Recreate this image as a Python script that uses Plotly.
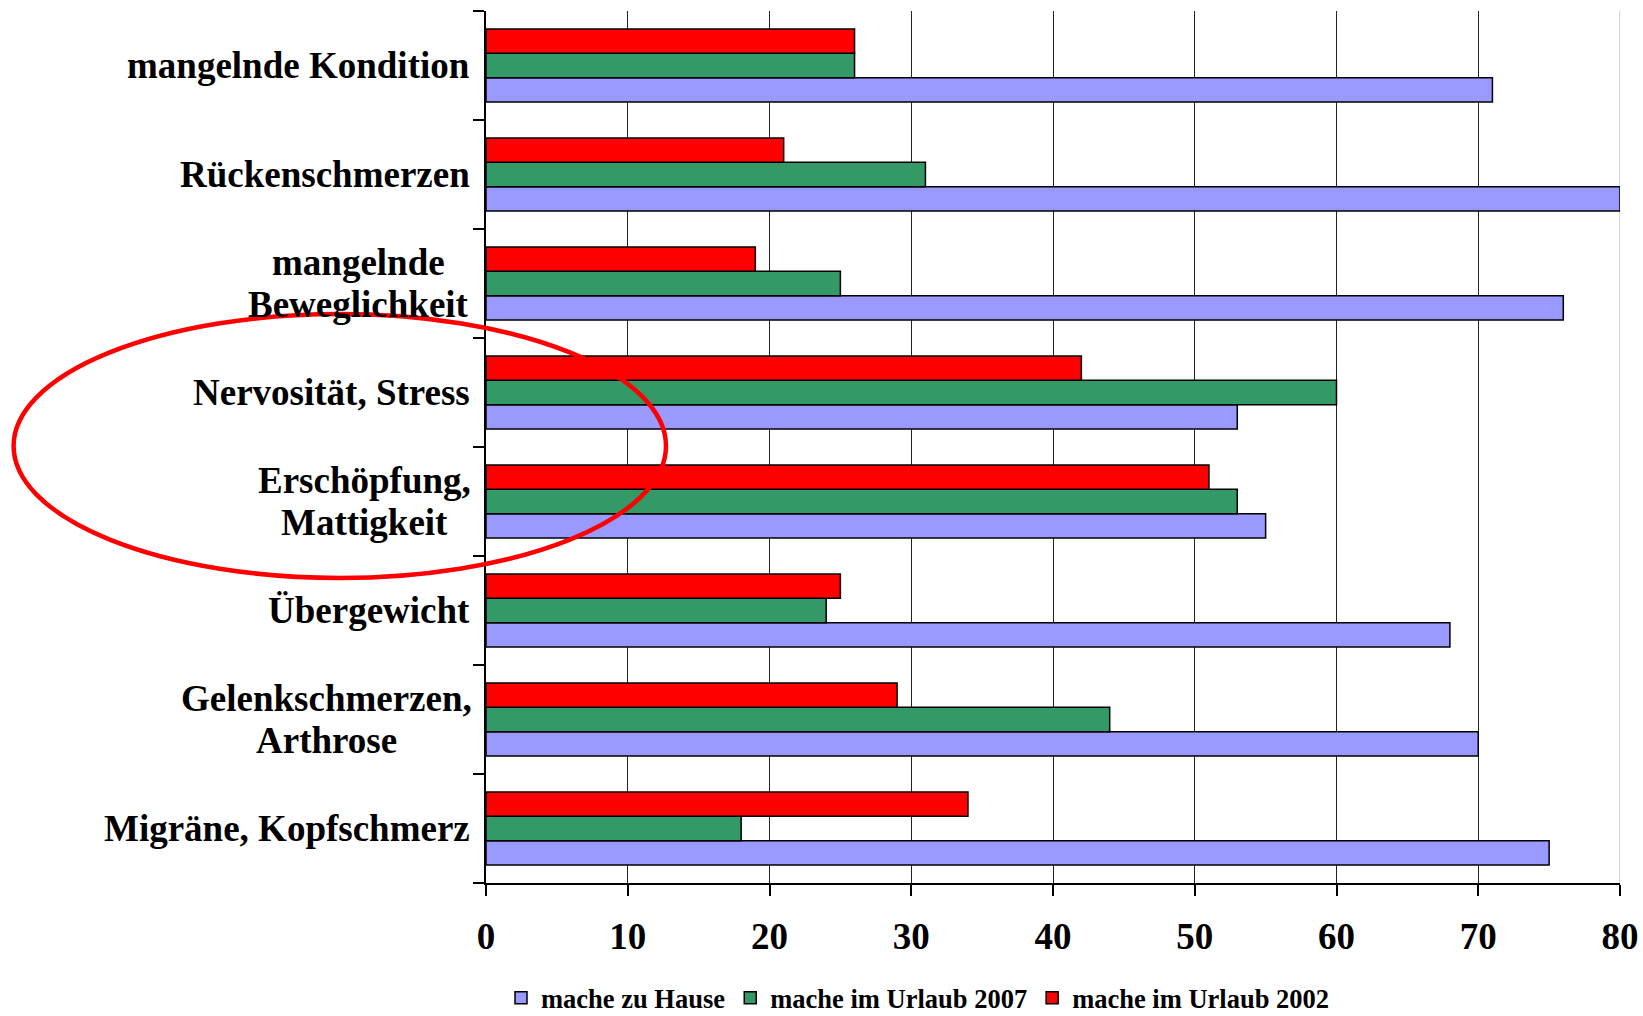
import plotly.graph_objects as go

# ---- data (top to bottom as shown) ----
categories = [
    "mangelnde Kondition",
    "Rückenschmerzen",
    "mangelnde Beweglichkeit",
    "Nervosität, Stress",
    "Erschöpfung, Mattigkeit",
    "Übergewicht",
    "Gelenkschmerzen, Arthrose",
    "Migräne, Kopfschmerz",
]
label_lines = [
    ["mangelnde Kondition"],
    ["Rückenschmerzen"],
    ["mangelnde", "Beweglichkeit"],
    ["Nervosität, Stress"],
    ["Erschöpfung,", "Mattigkeit"],
    ["Übergewicht"],
    ["Gelenkschmerzen,", "Arthrose"],
    ["Migräne, Kopfschmerz"],
]
zu_hause = [71, 80, 76, 53, 55, 68, 70, 75]
urlaub_2007 = [26, 31, 25, 60, 53, 24, 44, 18]
urlaub_2002 = [26, 21, 19, 42, 51, 25, 29, 34]
series_names = ["mache zu Hause", "mache im Urlaub 2007", "mache im Urlaub 2002"]
series_colors = ["#9999FF", "#339966", "#FF0000"]
x_ticks = [0, 10, 20, 30, 40, 50, 60, 70, 80]

FONT = "Liberation Serif, Times New Roman, serif"

fig = go.Figure()
for name, vals, col in zip(series_names, [zu_hause, urlaub_2007, urlaub_2002], series_colors):
    fig.add_trace(go.Bar(
        y=categories, x=vals, name=name, orientation="h",
        marker=dict(color=col, line=dict(color="#000000", width=1.5)),
    ))

# category labels (centered multi-line like the original)
two_line_centers = {2: 358, 4: 364, 6: 326}  # pixel centre of two-line labels
annotations = []
for i, (cat, lines) in enumerate(zip(categories, label_lines)):
    if len(lines) == 1:
        annotations.append(dict(
            x=0, xref="paper", y=cat, yref="y", text=lines[0], showarrow=False,
            xanchor="right", yanchor="middle", xshift=-14,
            font=dict(family=FONT, size=37, color="#000", weight="bold"),
        ))
    else:
        cx = two_line_centers[i] - 486
        for j, ln in enumerate(lines):
            annotations.append(dict(
                x=0, xref="paper", y=cat, yref="y", text=ln, showarrow=False,
                xanchor="center", yanchor="middle", xshift=cx,
                yshift=21 if j == 0 else -21,
                font=dict(family=FONT, size=37, color="#000", weight="bold"),
            ))

fig.update_layout(
    width=1643, height=1016,
    margin=dict(l=486, r=23, t=11, b=133, autoexpand=False),
    paper_bgcolor="white", plot_bgcolor="white",
    barmode="group", bargap=0.33, bargroupgap=0,
    font=dict(family=FONT, color="#000"),
    showlegend=True,
    legend=dict(
        orientation="h", xref="container", yref="container",
        x=918 / 1643, xanchor="center", y=1 - 998 / 1016, yanchor="middle",
        font=dict(family=FONT, size=26.5, color="#000", weight="bold"),
        traceorder="normal", itemclick=False, bgcolor="rgba(0,0,0,0)",
    ),
    xaxis=dict(
        range=[0, 80], tickvals=x_ticks, ticktext=[str(v) for v in x_ticks],
        showgrid=True, gridcolor="#222222", gridwidth=1,
        showline=True, linecolor="#000", linewidth=1.5,
        ticks="outside", ticklen=11, tickcolor="#000", tickwidth=1.5,
        tickfont=dict(family=FONT, size=37, color="#000", weight="bold"),
        ticklabelstandoff=9, zeroline=False, fixedrange=True, automargin=False,
    ),
    yaxis=dict(
        categoryorder="array", categoryarray=categories[::-1],
        showticklabels=False, showgrid=False, zeroline=False,
        showline=True, linecolor="#000", linewidth=1.5,
        ticks="outside", tickson="boundaries", ticklen=11, tickcolor="#000", tickwidth=1.5,
        fixedrange=True, automargin=False,
    ),
    annotations=annotations,
    shapes=[
        # right edge of the plot area is a light grey line in the original
        dict(type="line", xref="x", yref="paper", x0=80, x1=80, y0=0, y1=1,
             line=dict(color="#FFFFFF", width=3), layer="between"),
        dict(type="line", xref="x", yref="paper", x0=80, x1=80, y0=0, y1=1,
             line=dict(color="#C8C8C8", width=1.5), layer="between"),
        dict(
            type="circle", xref="paper", yref="paper",
            x0=(13.6 - 486) / 1134, x1=(666 - 486) / 1134,
            y0=(883 - 578) / 872, y1=(883 - 314) / 872,
            line=dict(color="#FF0000", width=4.5), fillcolor="rgba(0,0,0,0)", layer="above",
        ),
    ],
)

fig.write_html("out.html")
